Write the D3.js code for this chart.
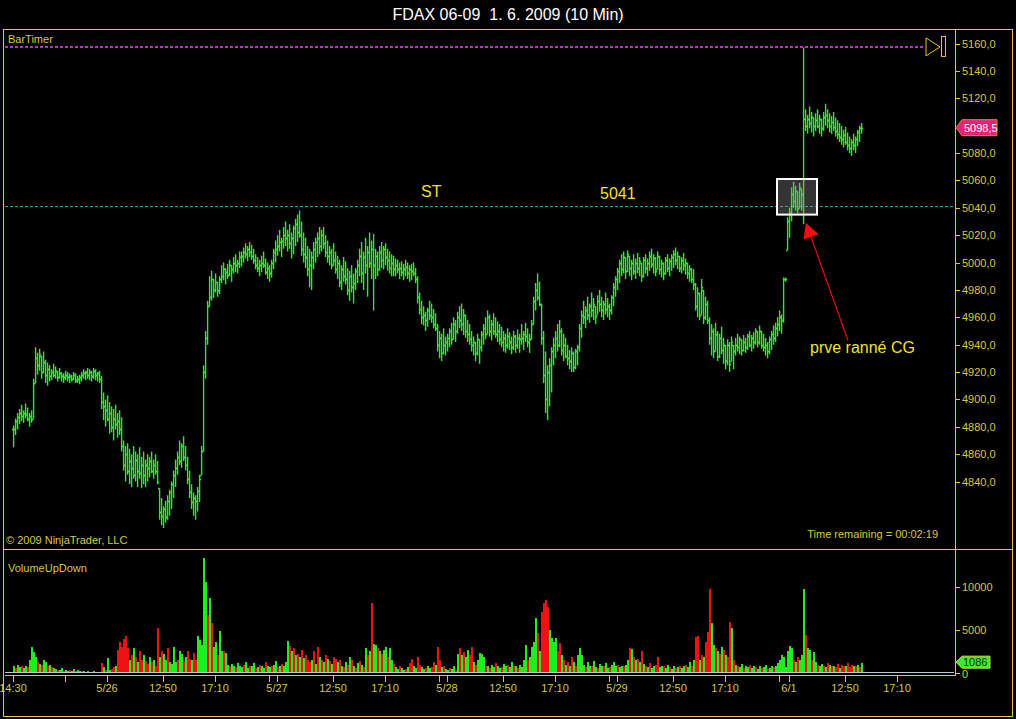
<!DOCTYPE html>
<html>
<head>
<meta charset="utf-8">
<script src="https://cdn.jsdelivr.net/npm/d3@7"></script>
<style>
  html, body { margin: 0; padding: 0; background: #000; }
  svg { display: block; font-family: "Liberation Sans", Arial, sans-serif; }
</style>
</head>
<body>
<svg id="chart" width="1016" height="719"></svg>
<script>

/***************
***** DATA *****
***************/

// 10 min bars [high, low, close], 5/25 14:30 -> 6/1 ~15:00
// (open of a bar = close of the bar before)
const priceBars = [
  [4881,4865,4878],[4886,4874,4884],[4890,4878,4887],[4893,4882,4890],[4896,4884,4888],[4892,4883,4890],[4897,4886,4889],[4894,4884,4886],[4890,4880,4888],[4892,4883,4886],
  [4915,4886,4912],
  [4938,4912,4930],[4934,4918,4925],[4937,4921,4933],[4932,4915,4920],[4935,4919,4927],[4929,4912,4918],
  [4927,4910,4922],[4925,4913,4917],[4922,4914,4920],[4926,4916,4918],[4924,4915,4921],[4921,4913,4916],[4923,4915,4919],[4920,4913,4917],[4919,4912,4916],[4921,4914,4918],
  [4920,4913,4916],[4919,4912,4917],[4918,4913,4915],[4920,4914,4918],[4919,4912,4914],[4917,4912,4915],[4918,4911,4916],[4920,4913,4918],[4922,4915,4919],[4921,4914,4920],
  [4923,4915,4918],[4922,4914,4920],[4921,4913,4917],[4923,4915,4921],[4922,4914,4918],[4920,4913,4919],[4921,4912,4915],
  [4917,4893,4898],
  [4905,4885,4895],[4900,4880,4892],[4903,4884,4886],[4898,4875,4890],[4895,4876,4880],[4893,4870,4886],[4896,4878,4882],[4890,4872,4884],[4892,4874,4878],[4887,4862,4866],
  [4870,4848,4852],[4866,4840,4860],[4868,4845,4848],[4864,4838,4855],[4860,4836,4850],[4866,4842,4845],[4862,4840,4856],[4860,4836,4848],[4865,4842,4846],[4858,4835,4852],
  [4862,4838,4845],[4856,4836,4852],[4860,4840,4850],
  [4858,4843,4855],[4862,4846,4848],[4856,4842,4852],[4860,4845,4848],[4855,4838,4840],
  [4835,4812,4818],[4828,4808,4815],[4822,4806,4820],[4826,4810,4814],[4830,4812,4826],[4834,4815,4832],
  [4840,4820,4838],[4848,4828,4845],[4856,4836,4850],[4862,4845,4858],[4870,4852,4855],[4868,4850,4866],[4873,4855,4858],[4866,4848,4852],
  [4858,4838,4842],[4848,4828,4832],[4838,4820,4825],[4832,4815,4828],[4830,4812,4826],[4836,4818,4833],[4845,4825,4842],
  [4866,4845,4862],
  [4925,4862,4920],[4950,4915,4945],[4972,4940,4968],
  [4990,4968,4975],[4994,4972,4988],[4988,4974,4980],[4992,4978,4986],[4986,4975,4980],[4990,4977,4988],
  [4998,4985,4990],[5000,4987,4995],[4996,4984,4993],[4999,4988,4991],[5002,4990,4998],[4998,4986,4995],[5004,4992,5000],[5006,4993,4998],[5002,4992,5000],[5008,4996,5004],
  [5008,4997,5005],[5011,5000,5008],[5014,5003,5006],[5012,5001,5010],[5015,5004,5008],[5013,5002,5005],[5010,4999,5002],[5006,4995,4998],[5004,4993,4996],
  [5002,4990,4998],[5005,4993,5000],[5008,4996,4998],[5003,4991,4993],[5000,4988,4996],[4998,4986,4992],[5002,4989,5000],[5010,4995,5008],[5016,5000,5010],
  [5020,5005,5012],[5024,5008,5015],[5018,5004,5016],[5026,5010,5020],[5030,5012,5018],[5024,5008,5020],[5028,5010,5014],[5022,5003,5018],[5027,5006,5025],[5032,5012,5028],
  [5035,5015,5022],[5038,5018,5020],
  [5030,5005,5010],[5022,5000,5006],[5018,4996,5004],[5012,4990,4995],[5010,4982,4998],[5008,4980,5004],[5015,4995,5010],
  [5018,5000,5015],[5022,5004,5018],[5026,5006,5012],[5024,5008,5020],[5026,5010,5014],[5020,5004,5008],[5016,5000,5005],[5012,4998,5008],[5010,4995,4998],[5014,4998,5002],
  [5008,4992,4995],[5005,4988,5000],[5002,4982,4986],[4998,4980,4995],[5004,4986,4990],[5001,4984,4988],[4996,4976,4980],[4994,4972,4990],[4998,4978,4982],[4992,4970,4985],
  [4996,4980,4994],[5002,4985,4998],
  [5010,4990,5005],[5015,4985,4992],[5008,4980,5004],[5018,4992,4998],[5012,4975,5008],[5022,4996,5000],[5016,4988,5010],[5021,4965,4998],
  [5010,4988,5005],[5008,4990,4995],[5012,4994,5008],[5015,4996,5002],[5012,4995,5010],[5014,4998,5004],[5010,4994,5002],[5008,4992,4996],[5006,4990,5000],[5005,4990,4995],
  [5003,4990,4998],[5002,4992,4995],[5000,4988,4996],[5001,4990,4993],[4999,4987,4995],[5002,4990,4997],[5000,4988,4992],[4998,4986,4995],[4999,4987,4994],[5000,4990,4992],
  [4996,4985,4988],
  [4990,4970,4975],[4978,4962,4966],
  [4972,4955,4960],[4968,4954,4962],[4964,4950,4958],[4967,4953,4965],[4972,4958,4962],[4970,4956,4960],[4966,4952,4955],[4963,4950,4952],
  [4955,4935,4940],[4950,4930,4945],[4948,4928,4934],[4952,4933,4940],[4946,4932,4942],
  [4948,4935,4945],[4952,4938,4950],[4956,4940,4944],[4960,4944,4955],[4958,4942,4950],[4964,4948,4960],[4968,4952,4958],[4970,4950,4955],[4966,4947,4962],[4962,4945,4950],
  [4958,4942,4948],[4955,4940,4944],
  [4950,4935,4940],[4946,4932,4942],[4942,4928,4934],[4948,4932,4944],[4944,4926,4938],[4950,4935,4948],[4955,4940,4952],
  [4960,4944,4948],[4965,4948,4960],[4962,4946,4950],[4958,4943,4955],[4963,4947,4950],[4960,4945,4948],[4957,4942,4950],[4955,4940,4944],
  [4953,4938,4942],[4950,4935,4945],[4948,4934,4940],[4952,4937,4946],[4949,4936,4942],[4946,4933,4938],[4950,4936,4946],[4947,4934,4940],[4951,4937,4945],[4948,4934,4944],
  [4955,4940,4945],[4950,4936,4948],[4956,4942,4946],[4952,4938,4942],[4948,4934,4944],[4958,4944,4955],
  [4975,4955,4972],[4985,4965,4980],[4992,4972,4975],[4986,4968,4970],
  [4970,4940,4945],[4950,4912,4918],[4935,4890,4900],[4925,4885,4920],[4930,4895,4925],[4938,4905,4935],
  [4945,4925,4940],[4950,4930,4945],[4955,4935,4940],[4958,4938,4950],[4952,4932,4936],[4948,4928,4940],[4945,4930,4932],
  [4940,4925,4930],[4936,4922,4928],[4938,4920,4934],[4935,4920,4924],[4937,4922,4935],[4940,4925,4938],
  [4955,4935,4952],[4965,4945,4962],[4972,4955,4960],[4968,4952,4965],
  [4975,4958,4962],[4970,4956,4968],[4978,4960,4965],[4974,4958,4970],[4968,4955,4960],[4976,4962,4972],[4980,4964,4970],[4975,4960,4965],[4972,4958,4970],[4978,4962,4966],
  [4974,4960,4968],[4970,4958,4965],[4976,4962,4975],
  [4985,4968,4982],[4990,4975,4988],[4996,4980,4994],
  [5002,4985,5000],[5006,4990,4995],[5008,4992,5004],[5004,4988,4994],[5009,4993,5006],[5005,4990,4996],[5002,4987,5000],[5006,4991,4994],[5003,4988,5000],[5007,4992,4996],
  [5004,4990,5001],[5000,4986,4990],[5004,4989,5002],[5006,4992,4996],
  [5003,4990,5000],[5008,4994,5005],[5010,4996,4999],[5006,4992,5003],[5004,4990,4994],[5008,4995,5005],[5005,4991,4995],[5002,4989,5000],[5000,4987,4992],[5004,4991,5002],
  [5006,4993,4996],[5003,4990,5001],
  [5006,4994,5004],[5009,4996,5006],[5011,4998,5002],[5008,4995,5005],[5005,4993,4996],[5004,4992,5002],[5007,4994,4998],[5003,4991,5000],[5000,4988,4992],[4998,4986,4995],
  [4996,4985,4988],[4995,4980,4984],
  [4985,4965,4968],[4982,4960,4978],[4978,4958,4962],[4988,4962,4982],[4980,4955,4960],[4975,4958,4970],[4972,4955,4958],
  [4960,4940,4945],[4955,4932,4950],[4952,4930,4935],[4956,4935,4948],[4950,4928,4932],[4948,4930,4945],[4953,4933,4936],[4945,4926,4940],[4940,4922,4928],[4944,4925,4940],
  [4942,4920,4926],[4946,4928,4942],[4940,4922,4935],
  [4945,4932,4940],[4948,4935,4938],[4946,4933,4944],[4944,4932,4936],[4947,4935,4942],[4945,4934,4938],[4948,4936,4946],[4950,4938,4940],[4947,4935,4945],[4949,4937,4942],
  [4952,4940,4950],[4950,4938,4942],[4954,4940,4950],[4950,4937,4940],
  [4948,4935,4938],[4945,4932,4940],[4942,4930,4935],[4946,4933,4944],[4950,4936,4948],[4954,4940,4945],[4956,4942,4952],[4960,4946,4955],
  [4965,4950,4960],[4962,4948,4958],[4989,4956,4988],[4989,4986,4988],
  [5033,5009,5030],[5040,5018,5036],[5055,5030,5050],[5059,5040,5045],[5056,5038,5052],[5052,5036,5040],[5058,5040,5055],[5054,5038,5050],[5157,5028,5105],
  [5112,5096,5100],[5108,5094,5105],[5114,5098,5102],[5110,5095,5106],[5106,5092,5100],[5109,5096,5104],[5112,5098,5100],[5108,5094,5105],[5105,5092,5098],[5110,5096,5106],
  [5116,5100,5108],[5112,5098,5104],[5109,5095,5100],[5107,5094,5103],[5110,5096,5099],[5106,5092,5096],[5104,5090,5094],[5102,5088,5092],[5100,5086,5090],[5097,5084,5093],
  [5099,5086,5088],[5095,5082,5086],[5092,5080,5084],[5090,5078,5088],[5094,5082,5086],[5092,5080,5090],[5097,5085,5095],[5100,5088,5098],[5102,5094,5098.5]
];

// volume per bar, positive = up bar (green), negative = down bar (red)
const volumes = [
  700,-500,900,600,-800,500,700,-600,
  1500,3000,2400,1800,
  -1200,1000,-900,1400,1200,-700,900,-600,500,
  400,-300,300,500,-200,300,200,-300,200,400,-200,300,200,-150,
  150,-100,200,100,-100,150,100,50,100,
  -1100,
  600,-300,1700,300,-400,-600,800,
  -2600,-3600,-3000,-3900,-4300,-2800,
  1500,-2000,2800,-1800,1200,-2500,-1500,2000,-1300,-1000,1800,-1200,
  1500,-800,
  -5200,
  1800,-2500,2200,1500,-2800,1200,1000,
  3000,
  1200,-1500,2500,2200,-1300,1800,-2500,-1600,1400,-2300,-1500,
  4300,3800,3200,
  13300,10500,-6700,8700,-5700,3000,3500,-2000,4800,2500,-2500,2300,
  900,-700,1000,800,-600,1100,700,
  600,-900,1200,500,-700,800,1100,-500,600,-900,700,500,-1200,800,600,-700,900,1300,-600,800,-1000,700,1200,
  3700,
  -3100,2500,-2800,2000,-2200,1800,-2600,1700,-2000,-1500,
  -1200,1500,-2500,1000,-3000,1800,-1400,1200,-2000,1600,-1300,1000,-1800,-1600,1200,-1400,
  800,-600,1200,-900,1800,-1400,700,-500,1100,-1300,900,-600,2900,-2000,
  2500,-8100,3300,
  3200,-2800,2500,-2200,2600,3000,-1800,2800,1500,
  -1000,600,400,-700,500,300,-400,600,-1100,-1600,800,500,-1800,-900,600,400,-500,700,
  500,-600,
  -1200,900,-3000,
  -1500,600,-800,400,300,-500,400,700,-300,
  2200,-2900,2000,-2400,1800,2600,-2000,-3000,
  1200,-900,1500,2300,2200,1800,-800,
  700,-500,900,600,-1100,800,500,-600,1000,700,-900,600,1200,-700,800,-500,900,600,
  1400,3200,-1500,1800,
  3000,3600,6300,-4600,2500,
  -7000,-8100,-8400,-7600,5000,4000,3600,4000,-2500,-3400,2000,
  -1500,900,-1200,800,
  -1800,1200,-800,2000,2900,2000,
  900,-600,1200,800,-700,1300,600,-500,1000,700,-800,1100,500,-600,900,1200,700,-900,600,800,-700,900,
  1500,-2900,2700,-1800,1500,-1600,1200,-2500,1000,
  -800,600,-1100,500,700,-900,-1800,600,800,-700,500,900,-600,400,700,-500,600,-800,500,
  700,-900,600,1200,-800,1500,
  -4100,-4300,1500,-2000,1800,
  -3500,-4700,-9700,5700,3200,-2800,2500,-2200,3000,-2600,2000,
  -1800,-5900,5200,-1500,
  900,-700,600,1000,-500,800,600,-900,500,700,-600,400,800,-500,600,900,-400,500,700,-600,
  800,1100,1500,2000,1800,600,
  2500,3100,2800,-1500,1200,-1800,1500,2000,9700,-4400,2800,2600,-1500,2400,
  1200,-900,800,1000,-700,600,-1100,900,-800,700,-600,-1000,500,-900,-700,800,-1100,-600,-900,700,-800,900,-600,1086
];

// 5100,0 sits under the last price marker, so it is not shown
const priceTicks = [4840, 4860, 4880, 4900, 4920, 4940, 4960, 4980, 5000, 5020, 5040, 5060, 5080, 5120, 5140, 5160];
const volumeTicks = [0, 5000, 10000];

// [bar index, label]
const timeTicks = [
  [0, "14:30"], [26, ""], [47, "5/26"], [75, "12:50"], [101, "17:10"],
  [128, ""], [132, "5/27"], [160, "12:50"], [186, "17:10"],
  [213, ""], [217, "5/28"], [245, "12:50"], [271, "17:10"],
  [298, ""], [302, "5/29"], [330, "12:50"], [356, "17:10"],
  [383, ""], [388, "6/1"], [416, "12:50"], [442, "17:10"]
];

const lastPrice = 5098.5;
const lastVolume = 1086;
const stLevel = 5041;
const barTimerLevel = 5157.5;

/**********************
***** BASIC SETUP *****
**********************/

const BORDER = "#E8C43C";
const LABEL = "#D8C840";
const BAR_GREEN = "#30E830";
const VOL_GREEN = "#1EEE1E";
const VOL_RED = "#EE1212";

const svg = d3.select("#chart");

svg.append("rect")
    .attr("width", 1016)
    .attr("height", 719)
    .attr("fill", "#000");

const x = d3.scaleLinear()
    .domain([0, priceBars.length - 1])
    .range([13, 13 + 2 * (priceBars.length - 1)]);

const y = d3.scaleLinear()
    .domain([4840, 5160])
    .range([481.5, 43.5]);

const yVol = d3.scaleLinear()
    .domain([0, 10000])
    .range([672.5, 586.5]);

const fmtPrice = d3.formatLocale({decimal: ",", thousands: ".", grouping: [3], currency: ["", ""]}).format(".1f");

/****************
***** TITLE *****
****************/

svg.append("text")
    .attr("x", 508)
    .attr("y", 20)
    .attr("text-anchor", "middle")
    .attr("fill", "#fff")
    .attr("font-size", 16)
    .style("white-space", "pre")
    .text("FDAX 06-09  1. 6. 2009 (10 Min)");

/******************
***** BORDERS *****
******************/

svg.append("rect")
    .attr("x", 3.5).attr("y", 29.5)
    .attr("width", 1009).attr("height", 687)
    .attr("fill", "none")
    .attr("stroke", BORDER);

svg.append("line")
    .attr("x1", 3).attr("x2", 1013)
    .attr("y1", 549.5).attr("y2", 549.5)
    .attr("stroke", BORDER);

// right axis line
svg.append("line")
    .attr("x1", 955.5).attr("x2", 955.5)
    .attr("y1", 29).attr("y2", 676)
    .attr("stroke", BORDER);

/*********************
***** PRICE AXIS *****
*********************/

const pAxis = svg.append("g").attr("class", "priceAxis");

pAxis.selectAll("line")
    .data(priceTicks)
    .enter()
    .append("line")
    .attr("x1", 955).attr("x2", 960)
    .attr("y1", d => Math.round(y(d)) + 0.5)
    .attr("y2", d => Math.round(y(d)) + 0.5)
    .attr("stroke", BORDER);

pAxis.selectAll("text")
    .data(priceTicks)
    .enter()
    .append("text")
    .attr("x", 962)
    .attr("y", d => y(d) + 4)
    .attr("fill", LABEL)
    .attr("font-size", 11)
    .text(d => fmtPrice(d));

/**********************
***** LEVEL LINES *****
**********************/

svg.append("line")
    .attr("x1", 5).attr("x2", 925)
    .attr("y1", Math.round(y(barTimerLevel)))
    .attr("y2", Math.round(y(barTimerLevel)))
    .attr("stroke", "#C828D8")
    .attr("stroke-width", 2)
    .attr("stroke-dasharray", "3,2");

svg.append("line")
    .attr("x1", 5).attr("x2", 954)
    .attr("y1", Math.round(y(stLevel)) + 0.5)
    .attr("y2", Math.round(y(stLevel)) + 0.5)
    .attr("stroke", "#24A4A8")
    .attr("stroke-dasharray", "3,2");

// bar timer marker
const yT = y(barTimerLevel);
svg.append("path")
    .attr("d", `M926,${yT - 9} L940,${yT} L926,${yT + 9} Z`)
    .attr("fill", "none")
    .attr("stroke", BORDER);
svg.append("rect")
    .attr("x", 941.5).attr("y", yT - 10.5)
    .attr("width", 4).attr("height", 20)
    .attr("fill", "none")
    .attr("stroke", BORDER);

/*********************
***** PRICE BARS *****
*********************/

// OHLC bars: high-low line, open tick left, close tick right
function barPath(d, i) {
    const cx = x(i) + 0.6;
    const prevClose = i > 0 ? priceBars[i - 1][2] : d[2];
    const open = Math.max(d[1], Math.min(d[0], prevClose));
    const yo = Math.round(y(open)) + 0.5;
    const yc = Math.round(y(d[2])) + 0.5;
    return `M${cx},${y(d[0])} V${y(d[1])} M${cx - 1.6},${yo} H${cx} M${cx},${yc} H${cx + 1.6}`;
}

svg.append("g")
    .attr("class", "bars")
    .selectAll("path")
    .data(priceBars)
    .enter()
    .append("path")
    .attr("d", barPath)
    .attr("fill", "none")
    .attr("stroke", BAR_GREEN)
    .attr("stroke-width", 1.4);

/**********************
***** ANNOTATIONS *****
**********************/

// highlight box round the open of 6/1
svg.append("rect")
    .attr("x", x(382)).attr("y", y(5061))
    .attr("width", x(402) - x(382))
    .attr("height", y(5035) - y(5061))
    .attr("fill", "rgba(150,150,150,0.35)")
    .attr("stroke", "#fff")
    .attr("stroke-width", 2);

// red arrow
const tip = [x(396.5), y(5029)];
const tail = [x(417.5), y(4943)];
const ang = Math.atan2(tail[1] - tip[1], tail[0] - tip[0]);
const headLen = 15, headW = 8;
const bx = tip[0] + headLen * Math.cos(ang), by = tip[1] + headLen * Math.sin(ang);
svg.append("line")
    .attr("x1", tail[0]).attr("y1", tail[1])
    .attr("x2", bx).attr("y2", by)
    .attr("stroke", "#E01010")
    .attr("stroke-width", 1.2);
svg.append("path")
    .attr("d", `M${tip[0]},${tip[1]}
        L${bx + headW * Math.sin(ang)},${by - headW * Math.cos(ang)}
        L${bx - headW * Math.sin(ang)},${by + headW * Math.cos(ang)} Z`)
    .attr("fill", "#F01010");

const notes = [
    {label: "ST", i: 204, p: 5048},
    {label: "5041", i: 293.5, p: 5046.5},
    {label: "prve ranné CG", i: 398.5, p: 4934}
];

svg.selectAll(".note")
    .data(notes)
    .enter()
    .append("text")
    .attr("class", "note")
    .attr("x", d => x(d.i))
    .attr("y", d => y(d.p))
    .attr("fill", "#F0E030")
    .attr("font-size", 16)
    .text(d => d.label);

// last price marker
const yLP = y(lastPrice);
svg.append("path")
    .attr("d", `M956,${yLP} L962,${yLP - 8} L997,${yLP - 8} L997,${yLP + 8} L962,${yLP + 8} Z`)
    .attr("fill", "#E8207A")
    .attr("stroke", "#F08020");
svg.append("text")
    .attr("x", 964).attr("y", yLP + 4)
    .attr("fill", "#fff")
    .attr("font-size", 11)
    .text(fmtPrice(lastPrice));

/*****************
***** LABELS *****
*****************/

const labels = [
    {label: "BarTimer", x: 8, y: 43, anchor: "start"},
    {label: "© 2009 NinjaTrader, LLC", x: 6, y: 544, anchor: "start"},
    {label: "Time remaining = 00:02:19", x: 938, y: 538, anchor: "end"},
    {label: "VolumeUpDown", x: 8, y: 572, anchor: "start"}
];

svg.selectAll(".panelLabel")
    .data(labels)
    .enter()
    .append("text")
    .attr("class", "panelLabel")
    .attr("x", d => d.x)
    .attr("y", d => d.y)
    .attr("text-anchor", d => d.anchor)
    .attr("fill", LABEL)
    .attr("font-size", 11)
    .text(d => d.label);

/*****************
***** VOLUME *****
*****************/

svg.append("g")
    .attr("class", "volume")
    .selectAll("rect")
    .data(volumes)
    .enter()
    .append("rect")
    .attr("x", (d, i) => x(i) - 0.5)
    .attr("y", d => yVol(Math.abs(d)))
    .attr("width", 2)
    .attr("height", d => yVol(0) - yVol(Math.abs(d)))
    .attr("fill", d => d >= 0 ? VOL_GREEN : VOL_RED)
    .attr("shape-rendering", "crispEdges");

svg.append("line")
    .attr("x1", 5).attr("x2", 954)
    .attr("y1", 672.5).attr("y2", 672.5)
    .attr("stroke", "#C8C8C8");

const vAxis = svg.append("g").attr("class", "volumeAxis");

vAxis.selectAll("line")
    .data(volumeTicks)
    .enter()
    .append("line")
    .attr("x1", 955).attr("x2", 960)
    .attr("y1", d => Math.round(yVol(d)) + 0.5)
    .attr("y2", d => Math.round(yVol(d)) + 0.5)
    .attr("stroke", BORDER);

vAxis.selectAll("text")
    .data(volumeTicks)
    .enter()
    .append("text")
    .attr("x", 962)
    .attr("y", d => d === 0 ? yVol(d) + 5.5 : yVol(d) + 4)
    .attr("fill", LABEL)
    .attr("font-size", 11)
    .text(d => d);

// last volume marker
const yLV = yVol(lastVolume) - 1;
svg.append("path")
    .attr("d", `M956,${yLV} L962,${yLV - 6} L990,${yLV - 6} L990,${yLV + 6} L962,${yLV + 6} Z`)
    .attr("fill", "#3CE83C")
    .attr("stroke", "#C8E020");
svg.append("text")
    .attr("x", 963).attr("y", yLV + 4)
    .attr("fill", "#103010")
    .attr("font-size", 11)
    .text(lastVolume);

/*****************
***** X AXIS *****
*****************/

svg.append("line")
    .attr("x1", 5).attr("x2", 955)
    .attr("y1", 675.5).attr("y2", 675.5)
    .attr("stroke", BORDER);

const tAxis = svg.append("g").attr("class", "timeAxis");

tAxis.selectAll("line")
    .data(timeTicks)
    .enter()
    .append("line")
    .attr("x1", d => Math.round(x(d[0])) + 0.5)
    .attr("x2", d => Math.round(x(d[0])) + 0.5)
    .attr("y1", 675).attr("y2", 682)
    .attr("stroke", BORDER);

tAxis.selectAll("text")
    .data(timeTicks)
    .enter()
    .append("text")
    .attr("x", d => x(d[0]))
    .attr("y", 692)
    .attr("text-anchor", "middle")
    .attr("fill", LABEL)
    .attr("font-size", 11)
    .text(d => d[1]);

</script>
</body>
</html>
